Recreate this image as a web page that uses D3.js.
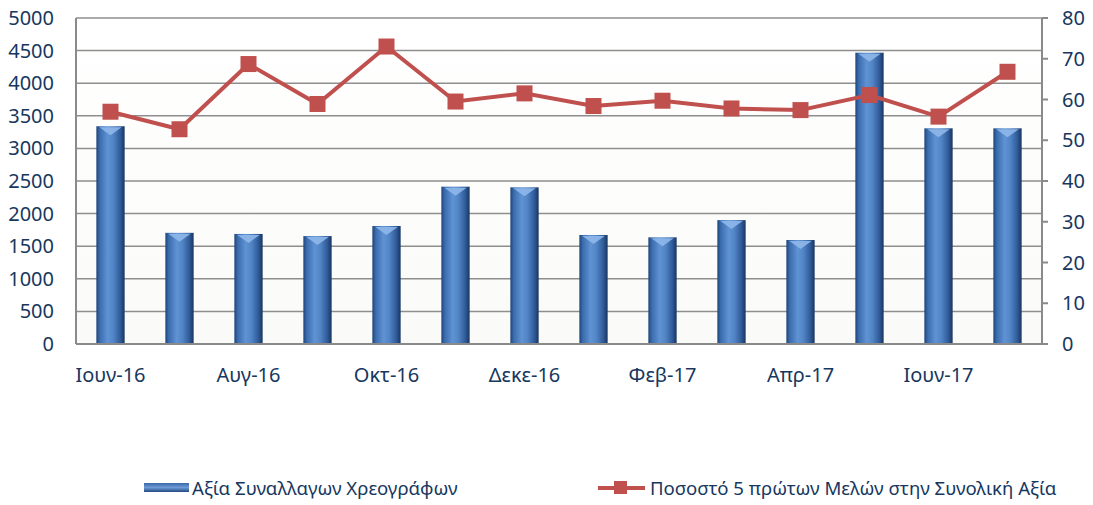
<!DOCTYPE html>
<html><head><meta charset="utf-8">
<script src="https://cdn.jsdelivr.net/npm/d3@7"></script>
<style>body{margin:0;background:#fff}svg{display:block}text{font-family:"Noto Sans",sans-serif;fill:#17375E}</style>
</head><body><svg id="c" width="1093" height="505"></svg>
<script>
const categories = ["Ιουν-16","Ιουλ-16","Αυγ-16","Σεπ-16","Οκτ-16","Νοε-16","Δεκε-16","Ιαν-17","Φεβ-17","Μαρ-17","Απρ-17","Μαϊ-17","Ιουν-17","Ιουλ-17"];
const tickLabels = ["Ιουν-16","Αυγ-16","Οκτ-16","Δεκε-16","Φεβ-17","Απρ-17","Ιουν-17"];
const barValues = [3340,1705,1688,1655,1810,2413,2403,1672,1636,1900,1595,4468,3308,3308];
const lineValues = [57.0,52.7,68.7,58.9,73.0,59.5,61.5,58.4,59.7,57.8,57.4,61.1,55.8,66.8];
const leftTicks = [0,500,1000,1500,2000,2500,3000,3500,4000,4500,5000];
const rightTicks = [0,10,20,30,40,50,60,70,80];
const barName = "Αξία Συναλλαγων Χρεογράφων";
const lineName = "Ποσοστό 5 πρώτων Μελών στην Συνολική Αξία";

const svg = d3.select("#c");
const L=76,R=1042,T=18,B=344;
const x = d3.scaleBand().domain(categories).range([L,R]).paddingInner(0.59).paddingOuter(0.295);
const yL = d3.scaleLinear().domain([0,5000]).range([B,T]);
const yR = d3.scaleLinear().domain([0,80]).range([B,T]);

const defs = svg.append("defs");
const g = defs.append("linearGradient").attr("id","bar").attr("x1","0").attr("x2","1").attr("y1","0").attr("y2","0");
[[0,"#1f4478"],[0.12,"#3a6cae"],[0.4,"#6093d3"],[0.6,"#5285c6"],[0.85,"#2f5a98"],[1,"#1a355f"]].forEach(([o,c])=>g.append("stop").attr("offset",o).attr("stop-color",c));
const bg = defs.append("linearGradient").attr("id","bg").attr("x1","0").attr("x2","0").attr("y1","0").attr("y2","1");
bg.append("stop").attr("offset",0).attr("stop-color","#ffffff");
bg.append("stop").attr("offset",1).attr("stop-color","#fafaf8");
const lg = defs.append("linearGradient").attr("id","lg").attr("x1","0").attr("x2","0").attr("y1","0").attr("y2","1");
[[0,"#3a68a8"],[0.5,"#6d9ad6"],[1,"#244a80"]].forEach(([o,c])=>lg.append("stop").attr("offset",o).attr("stop-color",c));

svg.append("rect").attr("x",L).attr("y",T).attr("width",R-L).attr("height",B-T).attr("fill","url(#bg)");

// gridlines
svg.append("g").selectAll("line").data(leftTicks).join("line")
  .attr("x1",L).attr("x2",R).attr("y1",d=>yL(d)).attr("y2",d=>yL(d))
  .attr("stroke","#8e8e8e").attr("stroke-width",1.5);

// bars
const bars = svg.append("g").selectAll("g").data(barValues).join("g");
bars.append("rect")
  .attr("x",(d,i)=>x(categories[i])).attr("width",x.bandwidth())
  .attr("y",d=>yL(d)).attr("height",d=>B-yL(d)).attr("fill","url(#bar)");
bars.append("path")
  .attr("d",(d,i)=>{const x0=x(categories[i]),w=x.bandwidth(),y0=yL(d);
    return `M${x0+3},${y0+1}L${x0+w-3},${y0+1}L${x0+w/2},${y0+9}Z`;})
  .attr("fill","#8fb8ea").attr("opacity",0.9);

// axes
const axisG = svg.append("g").attr("stroke","#8a8a8a").attr("stroke-width",2);
axisG.append("line").attr("x1",L).attr("x2",L).attr("y1",T).attr("y2",B);
axisG.append("line").attr("x1",R).attr("x2",R).attr("y1",T).attr("y2",B);
axisG.append("line").attr("x1",L).attr("x2",R).attr("y1",B).attr("y2",B);
axisG.selectAll(".rt").data(rightTicks).join("line").attr("x1",R).attr("x2",R+6).attr("y1",d=>yR(d)).attr("y2",d=>yR(d));

svg.append("g").selectAll("text").data(leftTicks).join("text")
  .attr("x",54).attr("y",d=>yL(d)).attr("dy","0.35em").attr("text-anchor","end")
  .attr("font-size",20).text(d=>d);
svg.append("g").selectAll("text").data(rightTicks).join("text")
  .attr("x",1062).attr("y",d=>yR(d)).attr("dy","0.35em").attr("text-anchor","start")
  .attr("font-size",20).text(d=>d);
svg.append("g").selectAll("text").data(tickLabels).join("text")
  .attr("x",d=>x(d)+x.bandwidth()/2).attr("y",382).attr("text-anchor","middle")
  .attr("font-size",20).text(d=>d);

// line
const line = d3.line().x((d,i)=>x(categories[i])+x.bandwidth()/2).y(d=>yR(d));
svg.append("path").datum(lineValues).attr("d",line).attr("fill","none").attr("stroke","#C0504D").attr("stroke-width",4);
svg.append("g").selectAll("rect").data(lineValues).join("rect")
  .attr("x",(d,i)=>x(categories[i])+x.bandwidth()/2-8).attr("y",d=>yR(d)-8)
  .attr("width",16).attr("height",16).attr("fill","#C0504D");

// legend
svg.append("rect").attr("x",144).attr("y",483).attr("width",45).attr("height",9).attr("fill","url(#lg)");
svg.append("text").attr("x",192).attr("y",488).attr("dy","0.35em").attr("font-size",18.6).text(barName);
svg.append("line").attr("x1",598).attr("x2",645).attr("y1",488).attr("y2",488).attr("stroke","#C0504D").attr("stroke-width",4);
svg.append("rect").attr("x",614).attr("y",481).attr("width",13).attr("height",13).attr("fill","#C0504D");
svg.append("text").attr("x",650).attr("y",488).attr("dy","0.35em").attr("font-size",18.6).text(lineName);
</script></body></html>
